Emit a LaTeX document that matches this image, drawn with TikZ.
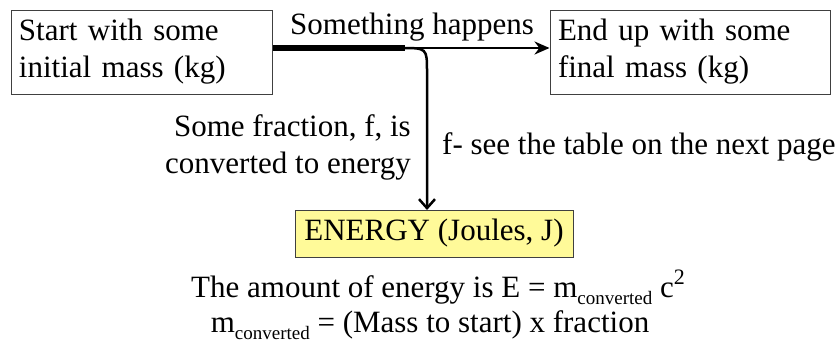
\documentclass[tikz,border=0pt]{standalone}
\usepackage{fontspec}
\newfontfamily\tnr{Liberation Serif}
\usetikzlibrary{arrows.meta}
\newcommand{\subconv}{\raisebox{-0.22em}{\fontsize{19}{19}\selectfont converted}}
\newcommand{\supsq}{\raisebox{0.42em}{\fontsize{22}{22}\selectfont 2}}
\begin{document}
\begin{tikzpicture}[x=1pt,y=1pt,
  txt/.style={font=\tnr\fontsize{31}{37}\selectfont, inner sep=0pt},
  massbox/.style={txt, draw=black!75, line width=1pt, align=left, minimum height=84pt, inner xsep=8pt},
  energybox/.style={txt, draw=black!75, line width=1pt, fill=yellow!40, minimum width=278pt, minimum height=47pt}
]
\useasboundingbox (0,0) rectangle (838,-343);
\node[massbox, text width=245pt] (start) at (141.5,-52) {Start with some\\initial mass (kg)};
\node[massbox, text width=264pt] (end) at (690,-52) {End up with some\\final mass (kg)};
\node[energybox] (energy) at (434,-233.5) {ENERGY (Joules, J)};
\node[txt] (happen) at (412,-27) {Something happens};
\node[txt, align=right, anchor=east] (fraction) at (411,-147) {Some fraction, f, is\\converted to energy};
\node[txt, anchor=west] (table) at (442,-147) {f- see the table on the next page};
\node[txt] (amount) at (438,-287) {The amount of energy is E = m\subconv{} c\supsq};
\node[txt] (mconv) at (430,-325) {m\subconv{} = (Mass to start) x fraction};
\coordinate (split) at (405,-48);
\coordinate (bend) at (427,-72);
\coordinate (drop) at (427,-210);
\draw[line width=6pt] (start.east |- split) -- (split);
\draw[line width=2.5pt, -{Stealth[length=15pt,width=13pt]}] (split) -- (end.west |- split);
\draw[line width=2.5pt, -{Straight Barb[length=9pt,width=16pt,line width=2.5pt]}] (401,-48) .. controls (427,-48) .. (bend) -- (drop);
\end{tikzpicture}
\end{document}
